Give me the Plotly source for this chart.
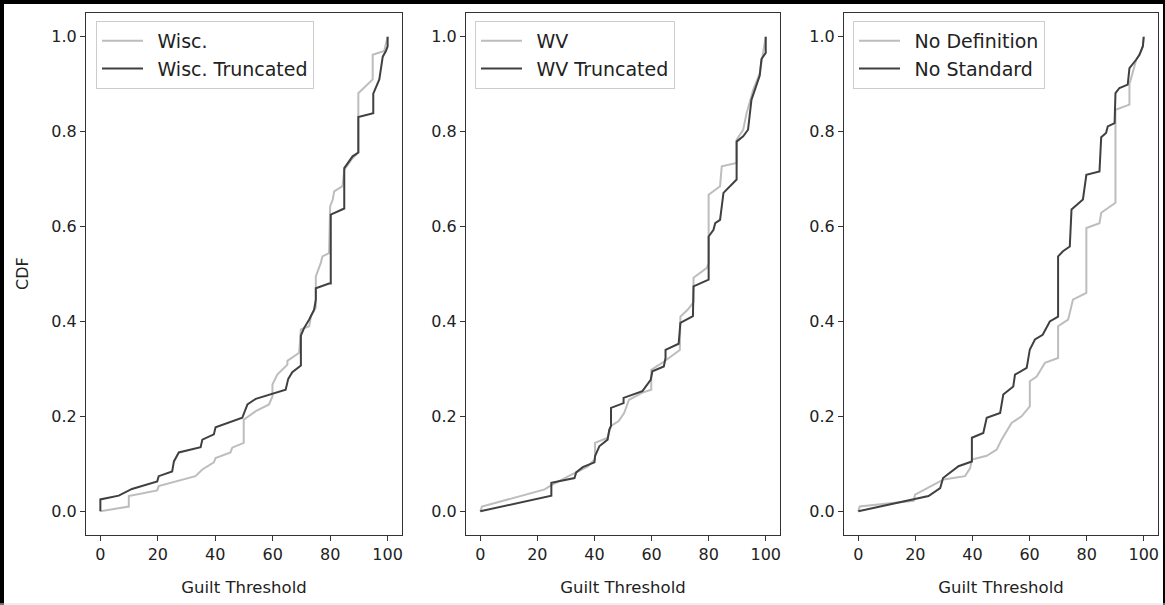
import plotly.graph_objects as go

# ---------------- data ----------------
wisc_x = [0, 9.9, 9.9, 19.8, 20.3, 33.1, 35.5, 39.5, 40.1, 45.3, 45.9, 49.9, 49.9, 54.1, 58.7, 59.9, 59.9, 61.6,
          65.1, 65.1, 69.2, 69.8, 72.7, 73.3, 75, 75, 76.7, 77.3, 79.6, 80, 80.9, 81.4, 84.3, 84.9, 87.8, 89.8,
          89.8, 94.8, 94.8, 98.8, 100]
wisc_y = [0, 0.01, 0.032, 0.044, 0.053, 0.074, 0.088, 0.103, 0.112, 0.124, 0.134, 0.144, 0.193, 0.211, 0.225,
          0.242, 0.267, 0.288, 0.309, 0.317, 0.334, 0.383, 0.39, 0.411, 0.43, 0.495, 0.523, 0.537, 0.544, 0.643,
          0.657, 0.674, 0.685, 0.72, 0.744, 0.756, 0.881, 0.91, 0.962, 0.97, 1.0]

wisc_tr_x = [0, 0, 6.4, 11, 19.8, 20.3, 25, 25.6, 27.3, 34.9, 35.5, 39.5, 40.1, 49.4, 51.2, 54.1, 64.5, 65.4,
             66.8, 69.8, 69.8, 70.9, 72.7, 74.4, 75, 75, 79.6, 80.2, 80.2, 84.9, 84.9, 87.8, 89.8, 89.8, 95, 95,
             97.1, 97.6, 98.3, 99.4, 100, 100]
wisc_tr_y = [0, 0.025, 0.033, 0.047, 0.063, 0.074, 0.084, 0.105, 0.124, 0.135, 0.151, 0.162, 0.177, 0.197,
             0.225, 0.237, 0.256, 0.279, 0.293, 0.307, 0.37, 0.386, 0.404, 0.425, 0.446, 0.47, 0.48, 0.48, 0.625,
             0.638, 0.723, 0.748, 0.756, 0.831, 0.839, 0.88, 0.91, 0.93, 0.958, 0.97, 0.98, 1.0]

wv_x = [0, 0.6, 22.6, 24.9, 31.3, 37.6, 40.2, 40.2, 44.6, 45.8, 48.5, 50.4, 52.1, 56.8, 59.9, 59.9, 64.3, 68.5,
        69.9, 70.1, 72.7, 74.7, 74.7, 79.4, 80, 80, 84, 84.6, 89.8, 89.8, 92.1, 93.3, 95.6, 97.9, 99.1, 100]
wv_y = [0, 0.01, 0.046, 0.055, 0.075, 0.094, 0.11, 0.144, 0.155, 0.18, 0.19, 0.207, 0.235, 0.25, 0.256, 0.298,
        0.315, 0.335, 0.34, 0.41, 0.425, 0.44, 0.492, 0.513, 0.523, 0.667, 0.685, 0.727, 0.734, 0.783, 0.804,
        0.839, 0.888, 0.923, 0.966, 1.0]

wv_tr_x = [0, 24.9, 24.9, 33, 33.6, 35.9, 40, 40.2, 41.7, 44.6, 45.2, 45.8, 45.8, 48.7, 50.2, 50.2, 56.8, 59.7,
           60.3, 64.3, 64.9, 64.9, 69.5, 70.1, 74.5, 74.7, 79.9, 80, 80, 81.7, 82.3, 84, 85.2, 89.8, 89.8, 92.1,
           93.8, 95, 97.9, 98.5, 100, 100]
wv_tr_y = [0, 0.033, 0.06, 0.07, 0.082, 0.093, 0.103, 0.116, 0.137, 0.151, 0.172, 0.18, 0.218, 0.225, 0.228,
           0.239, 0.253, 0.277, 0.295, 0.305, 0.323, 0.34, 0.353, 0.397, 0.411, 0.474, 0.488, 0.488, 0.579, 0.593,
           0.607, 0.614, 0.671, 0.699, 0.779, 0.79, 0.804, 0.867, 0.918, 0.953, 0.966, 1.0]

nodef_x = [0, 0.5, 19.4, 19.9, 29.9, 37.4, 39.2, 39.8, 45, 48.5, 50.2, 53.7, 57.2, 60.1, 60.1, 62.5, 65.4, 70,
           70, 73.5, 74.1, 75.2, 79.9, 79.9, 84.5, 85.1, 90.1, 90.1, 95, 95, 97.4, 98.5, 99.7, 100]
nodef_y = [0, 0.01, 0.022, 0.035, 0.067, 0.074, 0.091, 0.109, 0.117, 0.13, 0.151, 0.186, 0.2, 0.221, 0.274,
           0.284, 0.313, 0.323, 0.39, 0.404, 0.418, 0.446, 0.46, 0.597, 0.607, 0.629, 0.65, 0.846, 0.857, 0.9,
           0.952, 0.962, 0.98, 1.0]

nostd_x = [0, 19.4, 24.6, 28.7, 29.7, 35.1, 39.8, 39.8, 43.8, 45, 49.7, 50.8, 54.3, 54.9, 59, 60.1, 61.9, 64.6,
           67.1, 70, 70, 71.7, 74.1, 74.7, 78.7, 79.9, 84.5, 85.1, 86.8, 87.4, 89.8, 90.1, 91.5, 94.4, 95, 97.4,
           98.5, 99.7, 100]
nostd_y = [0, 0.025, 0.032, 0.049, 0.07, 0.095, 0.105, 0.155, 0.165, 0.197, 0.207, 0.246, 0.263, 0.288, 0.302,
           0.341, 0.362, 0.372, 0.4, 0.41, 0.537, 0.548, 0.558, 0.636, 0.657, 0.709, 0.716, 0.788, 0.797, 0.811,
           0.818, 0.881, 0.892, 0.899, 0.934, 0.952, 0.962, 0.98, 1.0]

x_ticks = [0, 20, 40, 60, 80, 100]
y_ticks = [0.0, 0.2, 0.4, 0.6, 0.8, 1.0]
x_title = "Guilt Threshold"
y_title = "CDF"

panels = [
    ("Wisc.", wisc_x, wisc_y, "Wisc. Truncated", wisc_tr_x, wisc_tr_y),
    ("WV", wv_x, wv_y, "WV Truncated", wv_tr_x, wv_tr_y),
    ("No Definition", nodef_x, nodef_y, "No Standard", nostd_x, nostd_y),
]

# ---------------- layout geometry ----------------
W, H = 1165, 605
ML, MR, MT, MB = 86, 7, 13, 70
PW = W - ML - MR
PH = H - MT - MB
panel_px = [(86, 402), (466, 780), (844, 1158)]
domains = [[(a - ML) / PW, (b - ML) / PW] for a, b in panel_px]
legend_left_px = [96, 475, 853]

LIGHT = "#bdbdbd"
DARK = "#404040"
FONT = "DejaVu Sans"
TXT = "#222222"
GAP = "\u2002"  # small gap between legend line sample and label

fig = go.Figure()
layout = dict(
    width=W, height=H,
    margin=dict(l=ML, r=MR, t=MT, b=MB, pad=0),
    paper_bgcolor="white", plot_bgcolor="white",
    font=dict(family=FONT, size=16, color=TXT),
    showlegend=True,
)

for i, (n1, x1, y1, n2, x2, y2) in enumerate(panels):
    k = "" if i == 0 else str(i + 1)
    leg = "legend" + k
    fig.add_trace(go.Scatter(x=x1, y=y1, mode="lines", name=GAP + n1, legend=leg, legendgroup=f"a{i}",
                             line=dict(color=LIGHT, width=2), xaxis="x" + k, yaxis="y" + k))
    fig.add_trace(go.Scatter(x=x2, y=y2, mode="lines", name=GAP + n2, legend=leg, legendgroup=f"b{i}",
                             line=dict(color=DARK, width=2), xaxis="x" + k, yaxis="y" + k))
    axis_common = dict(showline=True, mirror=True, linecolor="#333333", linewidth=1, showgrid=False,
                       zeroline=False, ticks="outside", ticklen=5, tickwidth=1, tickcolor="#333333",
                       tickfont=dict(size=16, color=TXT))
    layout["xaxis" + k] = dict(domain=domains[i], range=[-5, 105], tickvals=x_ticks,
                               ticktext=[str(v) for v in x_ticks], anchor="y" + k,
                               title=dict(text=x_title, font=dict(size=16.5), standoff=18), **axis_common)
    layout["yaxis" + k] = dict(domain=[0, 1], range=[-0.05, 1.05], tickvals=y_ticks,
                               ticktext=[f"{v:.1f}" for v in y_ticks], anchor="x" + k, **axis_common)
    layout[leg] = dict(x=(legend_left_px[i] - ML) / PW, y=1 - (21 - MT) / PH, xanchor="left", yanchor="top",
                       bgcolor="rgba(255,255,255,0.8)", bordercolor="#cccccc", borderwidth=1,
                       font=dict(size=19, color=TXT), tracegroupgap=1, traceorder="normal",
                       itemwidth=41)

fig.update_layout(**layout)

# y-axis title of the first panel
fig.add_annotation(text=y_title, xref="paper", yref="paper", x=(22 - ML) / PW, y=0.5,
                   textangle=-90, showarrow=False, font=dict(size=16, color=TXT),
                   xanchor="center", yanchor="middle")

# frame around the whole image
def px_x(p):
    return (p - ML) / PW

def px_y(p):
    return (H - MB - p) / PH

fig.add_shape(type="line", xref="paper", yref="paper", x0=px_x(2), x1=px_x(2), y0=px_y(605), y1=px_y(0),
              line=dict(color="black", width=4), layer="above")
fig.add_shape(type="line", xref="paper", yref="paper", x0=px_x(0), x1=px_x(1165), y0=px_y(2), y1=px_y(2),
              line=dict(color="black", width=4), layer="above")
fig.add_shape(type="line", xref="paper", yref="paper", x0=px_x(1164), x1=px_x(1164), y0=px_y(605), y1=px_y(0),
              line=dict(color="black", width=2), layer="above")
fig.add_shape(type="line", xref="paper", yref="paper", x0=px_x(0), x1=px_x(1165), y0=px_y(604), y1=px_y(604),
              line=dict(color="#dddddd", width=1), layer="above")

fig.write_html("out.html")
